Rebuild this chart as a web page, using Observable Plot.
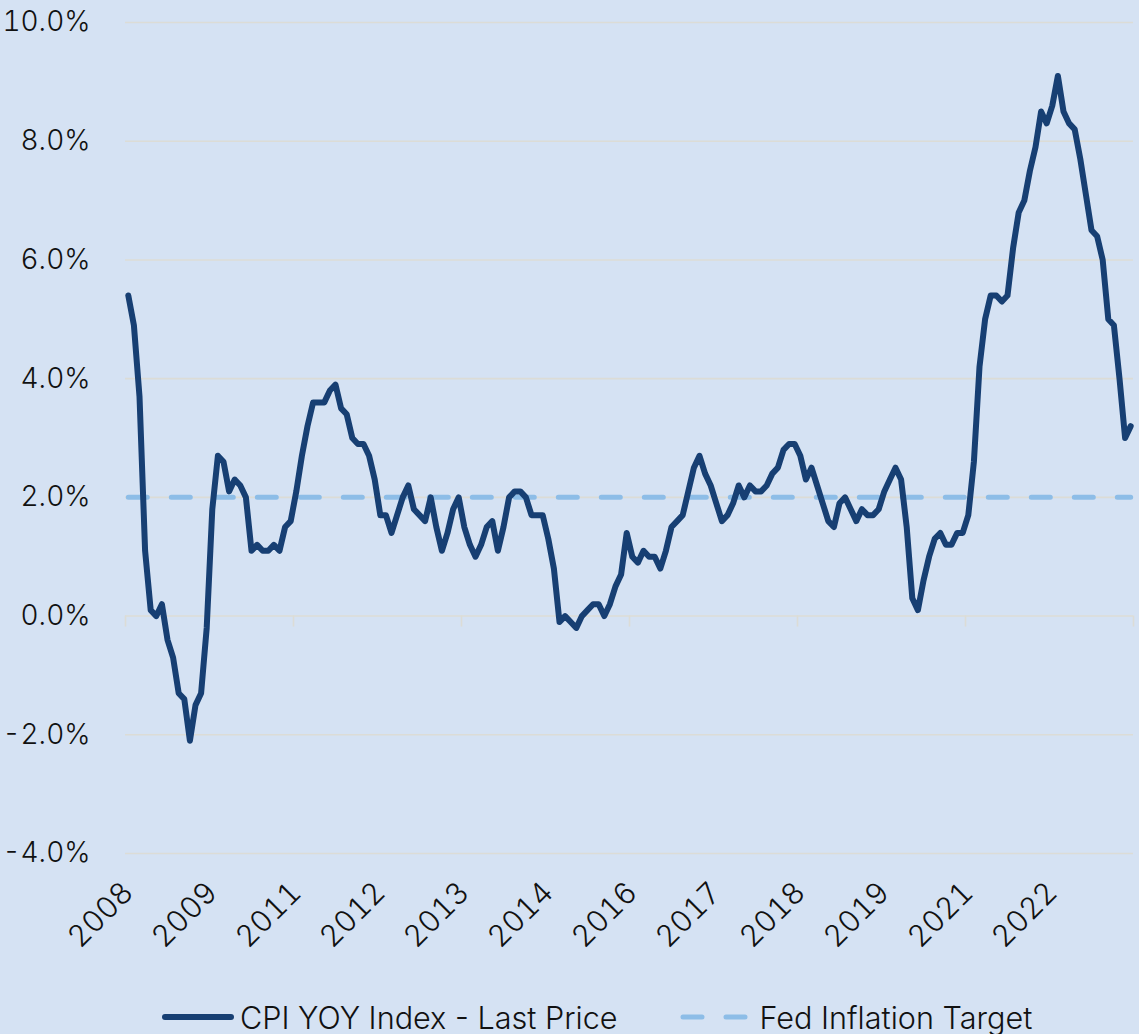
<!DOCTYPE html>
<html>
<head>
<meta charset="utf-8">
<script src="https://cdn.jsdelivr.net/npm/d3@7"></script>
<script src="https://cdn.jsdelivr.net/npm/@observablehq/plot@0.6"></script>
<style>
  html, body { margin: 0; padding: 0; background: #d5e2f3; }
  body { width: 1139px; height: 1034px; overflow: hidden; font-family: "Inter", sans-serif; font-weight: 300; color: #111; }
  #chart svg { display: block; }
  #legend { position: absolute; left: 162px; top: 996px; display: flex; align-items: center; height: 42px; font-size: 30.6px; font-weight: 300; font-family: "Inter", sans-serif; }
  #legend .item { display: flex; align-items: center; }
  #legend svg { display: block; }
</style>
</head>
<body>
<div id="chart"></div>
<div id="legend"></div>
<script>
// Monthly CPI YoY (%), Aug 2008 – Jul 2023
const cpiValues = [
  5.4, 4.9, 3.7, 1.1, 0.1,                                   // Aug–Dec 2008
  0.0, 0.2, -0.4, -0.7, -1.3, -1.4, -2.1, -1.5, -1.3, -0.2, 1.8, 2.7, // 2009
  2.6, 2.1, 2.3, 2.2, 2.0, 1.1, 1.2, 1.1, 1.1, 1.2, 1.1, 1.5, // 2010
  1.6, 2.1, 2.7, 3.2, 3.6, 3.6, 3.6, 3.8, 3.9, 3.5, 3.4, 3.0, // 2011
  2.9, 2.9, 2.7, 2.3, 1.7, 1.7, 1.4, 1.7, 2.0, 2.2, 1.8, 1.7, // 2012
  1.6, 2.0, 1.5, 1.1, 1.4, 1.8, 2.0, 1.5, 1.2, 1.0, 1.2, 1.5, // 2013
  1.6, 1.1, 1.5, 2.0, 2.1, 2.1, 2.0, 1.7, 1.7, 1.7, 1.3, 0.8, // 2014
  -0.1, 0.0, -0.1, -0.2, 0.0, 0.1, 0.2, 0.2, 0.0, 0.2, 0.5, 0.7, // 2015
  1.4, 1.0, 0.9, 1.1, 1.0, 1.0, 0.8, 1.1, 1.5, 1.6, 1.7, 2.1, // 2016
  2.5, 2.7, 2.4, 2.2, 1.9, 1.6, 1.7, 1.9, 2.2, 2.0, 2.2, 2.1, // 2017
  2.1, 2.2, 2.4, 2.5, 2.8, 2.9, 2.9, 2.7, 2.3, 2.5, 2.2, 1.9, // 2018
  1.6, 1.5, 1.9, 2.0, 1.8, 1.6, 1.8, 1.7, 1.7, 1.8, 2.1, 2.3, // 2019
  2.5, 2.3, 1.5, 0.3, 0.1, 0.6, 1.0, 1.3, 1.4, 1.2, 1.2, 1.4, // 2020
  1.4, 1.7, 2.6, 4.2, 5.0, 5.4, 5.4, 5.3, 5.4, 6.2, 6.8, 7.0, // 2021
  7.5, 7.9, 8.5, 8.3, 8.6, 9.1, 8.5, 8.3, 8.2, 7.7, 7.1, 6.5, // 2022
  6.4, 6.0, 5.0, 4.9, 4.0, 3.0, 3.2                          // Jan–Jul 2023
];
const fedTarget = 2.0;
const xLabelIndex = [0, 15, 30, 45, 60, 75, 90, 105, 120, 135, 150, 165];
const xLabels = ["2008", "2009", "2011", "2012", "2013", "2014", "2016", "2017", "2018", "2019", "2021", "2022"];
const yTicks = [-4, -2, 0, 2, 4, 6, 8, 10];
const seriesNames = ["CPI YOY Index - Last Price", "Fed Inflation Target"];
const colors = { cpi: "#173f73", fed: "#8dbde7", grid: "#dcdcd6", text: "#111111", bg: "#d5e2f3" };

const n = cpiValues.length;
const cpi = cpiValues.map((v, i) => ({ i, v }));
const fed = cpiValues.map((v, i) => ({ i, v: fedTarget }));
const tickEvery = 30;
const boundaries = d3.range(0, n + 1, tickEvery).map(k => k - 0.5);

const W = 1139, H = 985;
const chart = Plot.plot({
  width: W,
  height: H,
  marginLeft: 125,
  marginRight: 6,
  marginTop: 22,
  marginBottom: H - 853,
  style: { background: colors.bg, fontFamily: "Inter, sans-serif", color: colors.text, fontWeight: 300, overflow: "visible" },
  x: { type: "linear", domain: [-0.5, n - 0.5], axis: null },
  y: { domain: [-4, 10], axis: null },
  marks: [
    Plot.ruleY(yTicks, { stroke: colors.grid, strokeWidth: 1.6 }),
    Plot.ruleX(boundaries, { x: d => d, y1: 0, y2: 0, insetBottom: -11, stroke: colors.grid, strokeWidth: 1.6 }),
    Plot.line(fed, { x: "i", y: "v", stroke: colors.fed, strokeWidth: 5, strokeDasharray: "19,24", strokeLinecap: "round" }),
    Plot.line(cpi, { x: "i", y: "v", stroke: colors.cpi, strokeWidth: 6, strokeLinejoin: "round", strokeLinecap: "round" }),
    Plot.axisY(yTicks, { label: null, tickSize: 0, tickPadding: 35, tickFormat: d => d.toFixed(1) + "%", fontSize: 28, fill: colors.text }),
    Plot.axisX(xLabelIndex, { label: null, tickSize: 0, tickPadding: 34, tickRotate: -45, tickFormat: d => xLabels[xLabelIndex.indexOf(d)], fontSize: 30, fill: colors.text })
  ]
});
document.getElementById("chart").appendChild(chart);

const legend = document.getElementById("legend");
legend.innerHTML = `
  <div class="item">
    <svg width="72" height="12"><line x1="3" y1="6" x2="69" y2="6" stroke="${colors.cpi}" stroke-width="6" stroke-linecap="round"/></svg>
    <span style="margin-left:6px">${seriesNames[0]}</span>
  </div>
  <div class="item" style="margin-left:62px">
    <svg width="70" height="12"><line x1="3" y1="6" x2="67" y2="6" stroke="${colors.fed}" stroke-width="5" stroke-dasharray="19,24" stroke-linecap="round"/></svg>
    <span style="margin-left:10px">${seriesNames[1]}</span>
  </div>`;
</script>
</body>
</html>
